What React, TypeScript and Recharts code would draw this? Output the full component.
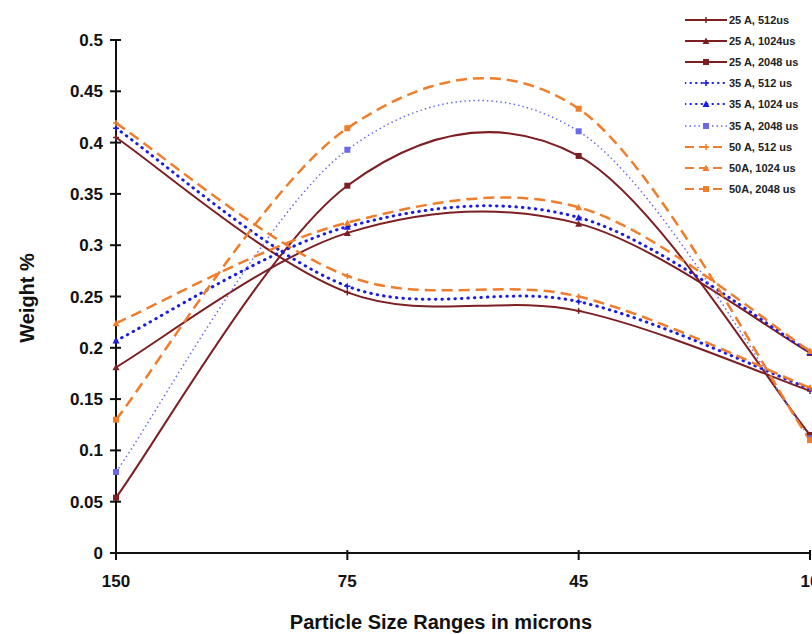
import { LineChart, Line, XAxis, YAxis } from "recharts";

const categories = ["150", "75", "45", "10"];
const yTicks = [0, 0.05, 0.1, 0.15, 0.2, 0.25, 0.3, 0.35, 0.4, 0.45, 0.5];

const a25_512 = [0.405, 0.254, 0.236, 0.158];
const a25_1024 = [0.181, 0.312, 0.321, 0.195];
const a25_2048 = [0.054, 0.358, 0.387, 0.115];
const a35_512 = [0.414, 0.26, 0.245, 0.16];
const a35_1024 = [0.207, 0.318, 0.327, 0.196];
const a35_2048 = [0.079, 0.393, 0.411, 0.112];
const a50_512 = [0.419, 0.27, 0.25, 0.161];
const a50_1024 = [0.224, 0.322, 0.337, 0.197];
const a50_2048 = [0.13, 0.414, 0.433, 0.11];

const BROWN = "#7d1f22";
const BLUE = "#1c1ce0";
const BLUE_LIGHT = "#6a6ae6";
const ORANGE = "#f07d2c";

type Shape = "plus" | "triangle" | "square";

type SeriesDef = {
  key: string;
  name: string;
  values: number[];
  color: string;
  width: number;
  dash?: string;
  cap?: "round" | "butt";
  shape: Shape;
};

const series: SeriesDef[] = [
  { key: "a25_512", name: "25 A, 512us", values: a25_512, color: BROWN, width: 2, shape: "plus" },
  { key: "a25_1024", name: "25 A, 1024us", values: a25_1024, color: BROWN, width: 2, shape: "triangle" },
  { key: "a25_2048", name: "25 A, 2048 us", values: a25_2048, color: BROWN, width: 2, shape: "square" },
  { key: "a35_512", name: "35 A, 512 us", values: a35_512, color: BLUE, width: 3, dash: "0.5 6", cap: "round", shape: "plus" },
  { key: "a35_1024", name: "35 A, 1024 us", values: a35_1024, color: BLUE, width: 3, dash: "0.5 6", cap: "round", shape: "triangle" },
  { key: "a35_2048", name: "35 A, 2048 us", values: a35_2048, color: BLUE_LIGHT, width: 1.5, dash: "1.5 3", shape: "square" },
  { key: "a50_512", name: "50 A, 512 us", values: a50_512, color: ORANGE, width: 2.5, dash: "11 6", shape: "plus" },
  { key: "a50_1024", name: "50A, 1024 us", values: a50_1024, color: ORANGE, width: 2.5, dash: "11 6", shape: "triangle" },
  { key: "a50_2048", name: "50A, 2048 us", values: a50_2048, color: ORANGE, width: 2.5, dash: "11 6", shape: "square" },
];

const rows = categories.map((c, i) => {
  const row: Record<string, string | number> = { size: c };
  series.forEach((s) => {
    row[s.key] = s.values[i];
  });
  return row;
});

const FONT = "'Liberation Sans', Arial, sans-serif";

// spreadsheet-style smoothing (Catmull-Rom through the points)
function smoothCurve(context: any) {
  let pts: [number, number][] = [];
  return {
    areaStart() {},
    areaEnd() {},
    lineStart() {
      pts = [];
    },
    point(x: number, y: number) {
      pts.push([+x, +y]);
    },
    lineEnd() {
      const n = pts.length;
      if (!n) return;
      context.moveTo(pts[0][0], pts[0][1]);
      for (let i = 0; i < n - 1; i++) {
        const p0 = pts[i - 1] ?? pts[i];
        const p1 = pts[i];
        const p2 = pts[i + 1];
        const p3 = pts[i + 2] ?? pts[i + 1];
        context.bezierCurveTo(
          p1[0] + (p2[0] - p0[0]) / 6,
          p1[1] + (p2[1] - p0[1]) / 6,
          p2[0] - (p3[0] - p1[0]) / 6,
          p2[1] - (p3[1] - p1[1]) / 6,
          p2[0],
          p2[1]
        );
      }
    },
  };
}

function Marker({ cx, cy, shape, color }: { cx: number; cy: number; shape: Shape; color: string }) {
  if (shape === "square") {
    return <rect x={cx - 3} y={cy - 3} width={6} height={6} fill={color} />;
  }
  if (shape === "triangle") {
    return <polygon points={`${cx},${cy - 3.5} ${cx + 3.5},${cy + 3} ${cx - 3.5},${cy + 3}`} fill={color} />;
  }
  return (
    <g stroke={color} strokeWidth={1.5}>
      <line x1={cx - 3} x2={cx + 3} y1={cy} y2={cy} />
      <line x1={cx} x2={cx} y1={cy - 3} y2={cy + 3} />
    </g>
  );
}

function makeDot(s: SeriesDef) {
  return (props: any) => {
    const { cx, cy, index } = props;
    if (cx == null || cy == null) return <g key={index} />;
    return (
      <g key={`${s.key}-${index}`}>
        <Marker cx={cx} cy={cy} shape={s.shape} color={s.color} />
      </g>
    );
  };
}

function YTick(props: any) {
  const { x, y, payload } = props;
  const v = payload.value as number;
  const label = v === 0 ? "0" : String(Number(v.toFixed(2)));
  return (
    <g>
      <line x1={x - 6} x2={x + 5} y1={y} y2={y} stroke="#111" strokeWidth={2} />
      <text x={x - 13} y={y + 6} textAnchor="end" fontSize={17} fontWeight="bold" fontFamily={FONT} fill="#111">
        {label}
      </text>
    </g>
  );
}

function XTick(props: any) {
  const { x, y, payload } = props;
  return (
    <g>
      <line x1={x} x2={x} y1={y - 5} y2={y + 5} stroke="#111" strokeWidth={2} />
      <text x={x} y={y + 32} textAnchor="middle" fontSize={17} fontWeight="bold" fontFamily={FONT} fill="#111">
        {payload.value}
      </text>
    </g>
  );
}

function LegendBox() {
  return (
    <div
      style={{
        position: "absolute",
        left: 685,
        top: 9,
        fontFamily: FONT,
        fontSize: 11,
        fontWeight: "bold",
        color: "#222",
        whiteSpace: "nowrap",
      }}
    >
      {series.map((s) => (
        <div key={s.key} style={{ display: "flex", alignItems: "center", height: 21.2 }}>
          <svg width={42} height={12} style={{ marginRight: 2 }}>
            <line
              x1={0}
              x2={42}
              y1={6}
              y2={6}
              stroke={s.color}
              strokeWidth={s.width > 2 ? 2 : s.width}
              strokeDasharray={s.dash ? (s.dash === "11 6" ? "9 5" : s.dash.replace("6", "5")) : undefined}
              strokeLinecap={s.cap ?? "butt"}
            />
            <Marker cx={21} cy={6} shape={s.shape} color={s.color} />
          </svg>
          <span>{s.name}</span>
        </div>
      ))}
    </div>
  );
}

export default function App() {
  return (
    <div style={{ position: "absolute", left: 0, top: 0, width: 812, height: 634, background: "#fff" }}>
      <LineChart width={812} height={634} data={rows} margin={{ top: 40, right: 2, left: 0, bottom: 0 }}>
        <XAxis
          dataKey="size"
          height={81}
          axisLine={{ stroke: "#111", strokeWidth: 2 }}
          tickLine={false}
          tickSize={0}
          tick={<XTick />}
          interval={0}
          label={{
            content: () => (
              <text x={441} y={629} textAnchor="middle" fontSize={20} fontWeight="bold" fontFamily={FONT} fill="#111">
                Particle Size Ranges in microns
              </text>
            ),
          }}
        />
        <YAxis
          width={116}
          domain={[0, 0.5]}
          ticks={yTicks}
          interval={0}
          axisLine={{ stroke: "#111", strokeWidth: 2 }}
          tickLine={false}
          tickSize={0}
          tickMargin={0}
          tick={<YTick />}
          label={{
            content: () => (
              <text
                x={34}
                y={298}
                transform="rotate(-90 34 298)"
                textAnchor="middle"
                fontSize={20}
                fontWeight="bold"
                fontFamily={FONT}
                fill="#111"
              >
                Weight %
              </text>
            ),
          }}
        />
        {series.map((s) => (
          <Line
            key={s.key}
            type={smoothCurve as any}
            dataKey={s.key}
            name={s.name}
            stroke={s.color}
            strokeWidth={s.width}
            strokeDasharray={s.dash}
            strokeLinecap={s.cap ?? "butt"}
            dot={makeDot(s)}
            activeDot={false}
            isAnimationActive={false}
          />
        ))}
      </LineChart>
      <LegendBox />
    </div>
  );
}
